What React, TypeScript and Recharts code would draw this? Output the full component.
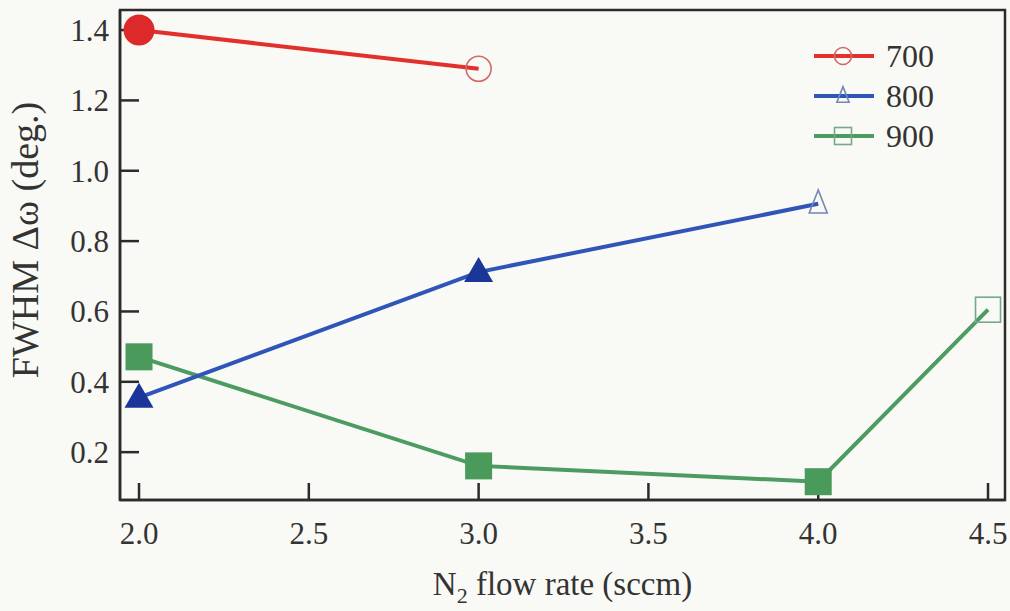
import { LineChart, Line, XAxis, YAxis, Legend, ReferenceArea } from "recharts";

// N2 flow rate (sccm) vs FWHM (deg.) for three growth temperatures
const flow700 = [2.0, 3.0];
const fwhm700 = [1.4, 1.29];
const open700 = [false, true];

const flow800 = [2.0, 3.0, 4.0];
const fwhm800 = [0.355, 0.712, 0.906];
const open800 = [false, false, true];

const flow900 = [2.0, 3.0, 4.0, 4.5];
const fwhm900 = [0.471, 0.161, 0.116, 0.605];
const open900 = [false, false, false, true];

const xTicks = [2.0, 2.5, 3.0, 3.5, 4.0, 4.5];
const yTicks = [0.2, 0.4, 0.6, 0.8, 1.0, 1.2, 1.4];

const X_DOMAIN: [number, number] = [1.944, 4.55];
const Y_DOMAIN: [number, number] = [0.064, 1.457];

const build = (xs: number[], ys: number[], open: boolean[]) =>
  xs.map((x, i) => ({ x, y: ys[i], open: open[i] }));

const data700 = build(flow700, fwhm700, open700);
const data800 = build(flow800, fwhm800, open800);
const data900 = build(flow900, fwhm900, open900);

const FONT = "'Liberation Serif', 'Times New Roman', serif";
const AXIS = "#2b2b2b";

const series = {
  "700": { line: "#e2302c", fill: "#dc2a2a", open: "#d06a66", shape: "circle" },
  "800": { line: "#2f55b8", fill: "#1b3599", open: "#6f88b8", shape: "triangle" },
  "900": { line: "#4c9c62", fill: "#4a9a5c", open: "#78a88a", shape: "square" },
} as const;

type Key = keyof typeof series;

function marker(key: Key, cx: number, cy: number, open: boolean, scale = 1, k?: string | number) {
  const s = series[key];
  const stroke = open ? s.open : "none";
  const fill = open ? "none" : s.fill;
  const sw = open ? 1.6 : 0;
  if (s.shape === "circle") {
    const r = (open ? 12.5 : 15.5) * scale;
    return <circle key={k} cx={cx} cy={cy} r={r} fill={fill} stroke={stroke} strokeWidth={sw} />;
  }
  if (s.shape === "triangle") {
    const w = (open ? 18 : 29) * scale;
    const h = (open ? 23 : 25) * scale;
    const pts = `${cx},${cy - h * 0.6} ${cx - w / 2},${cy + h * 0.4} ${cx + w / 2},${cy + h * 0.4}`;
    return <polygon key={k} points={pts} fill={fill} stroke={stroke} strokeWidth={sw} />;
  }
  const a = (open ? 25 : 27) * scale;
  return <rect key={k} x={cx - a / 2} y={cy - a / 2} width={a} height={a} fill={fill} stroke={stroke} strokeWidth={sw} />;
}

const dotFor = (key: Key) => (p: any) => {
  if (p.cx == null || p.cy == null) return <g key={p.index} />;
  return marker(key, p.cx, p.cy, !!p.payload?.open, 1, p.index);
};

function LegendBox({ payload }: any) {
  const items = ((payload || []) as any[]).slice().sort((a, b) => Number(a.value) - Number(b.value));
  return (
    <div style={{ fontFamily: FONT, fontSize: 32, color: "#333", lineHeight: "40px" }}>
      {items.map((it) => {
        const key = String(it.value) as Key;
        const s = series[key];
        if (!s) return null;
        return (
          <div key={key} style={{ display: "flex", alignItems: "center", height: 40 }}>
            <svg width={64} height={40} style={{ marginRight: 10 }}>
              <line x1={2} y1={20} x2={62} y2={20} stroke={s.line} strokeWidth={4} />
              {marker(key, 31, 20, true, 0.68)}
            </svg>
            <span>{key}</span>
          </div>
        );
      })}
    </div>
  );
}

const YLabel = (props: any) => {
  const vb = props.viewBox || { x: 0, y: 0, width: 0, height: 0 };
  const x = vb.x + 25;
  const y = vb.y + vb.height / 2 - 15;
  return (
    <text
      x={x}
      y={y}
      transform={`rotate(-90, ${x}, ${y})`}
      textAnchor="middle"
      dominantBaseline="central"
      fontFamily={FONT}
      fontSize={38}
      fill="#333"
    >
      FWHM Δω (deg.)
    </text>
  );
};

const XLabel = (props: any) => {
  const vb = props.viewBox || { x: 0, y: 0, width: 0, height: 0 };
  const x = vb.x + vb.width / 2;
  const y = vb.y + 95;
  return (
    <text x={x} y={y} textAnchor="middle" fontFamily={FONT} fontSize={33} fill="#333">
      N
      <tspan fontSize={22} dy={8}>2</tspan>
      <tspan dy={-8}> flow rate (sccm)</tspan>
    </text>
  );
};

export default function App() {
  const tickStyle = { fontFamily: FONT, fontSize: 31, fill: "#333" };
  return (
    <div style={{ position: "absolute", left: 0, top: 0, width: 1010, height: 611, background: "#f9f9f5" }}>
      <LineChart width={1010} height={611} margin={{ top: 10, right: 5, left: 0, bottom: 0 }}>
        <XAxis
          dataKey="x"
          type="number"
          domain={X_DOMAIN}
          allowDataOverflow
          ticks={xTicks}
          tickFormatter={(v: number) => v.toFixed(1)}
          height={111}
          tickSize={-17}
          tickMargin={39}
          axisLine={{ stroke: AXIS, strokeWidth: 2.5 }}
          tickLine={{ stroke: AXIS, strokeWidth: 2.5 }}
          tick={tickStyle}
          label={<XLabel />}
        />
        <YAxis
          type="number"
          domain={Y_DOMAIN}
          allowDataOverflow
          ticks={yTicks}
          tickFormatter={(v: number) => v.toFixed(1)}
          width={120}
          tickSize={-19}
          tickMargin={30}
          axisLine={{ stroke: AXIS, strokeWidth: 2.5 }}
          tickLine={{ stroke: AXIS, strokeWidth: 2.5 }}
          tick={tickStyle}
          label={<YLabel />}
        />
        <ReferenceArea
          x1={X_DOMAIN[0]}
          x2={X_DOMAIN[1]}
          y1={Y_DOMAIN[0]}
          y2={Y_DOMAIN[1]}
          fill="none"
          fillOpacity={0}
          stroke={AXIS}
          strokeWidth={2.5}
        />
        <Legend
          layout="vertical"
          align="center"
          verticalAlign="middle"
          content={<LegendBox />}
          wrapperStyle={{ top: 36, left: 812, width: 160 }}
        />
        <Line
          data={data900}
          dataKey="y"
          name="900"
          stroke={series["900"].line}
          strokeWidth={4}
          dot={dotFor("900")}
          activeDot={false}
          isAnimationActive={false}
        />
        <Line
          data={data800}
          dataKey="y"
          name="800"
          stroke={series["800"].line}
          strokeWidth={4}
          dot={dotFor("800")}
          activeDot={false}
          isAnimationActive={false}
        />
        <Line
          data={data700}
          dataKey="y"
          name="700"
          stroke={series["700"].line}
          strokeWidth={4}
          dot={dotFor("700")}
          activeDot={false}
          isAnimationActive={false}
        />
      </LineChart>
    </div>
  );
}
